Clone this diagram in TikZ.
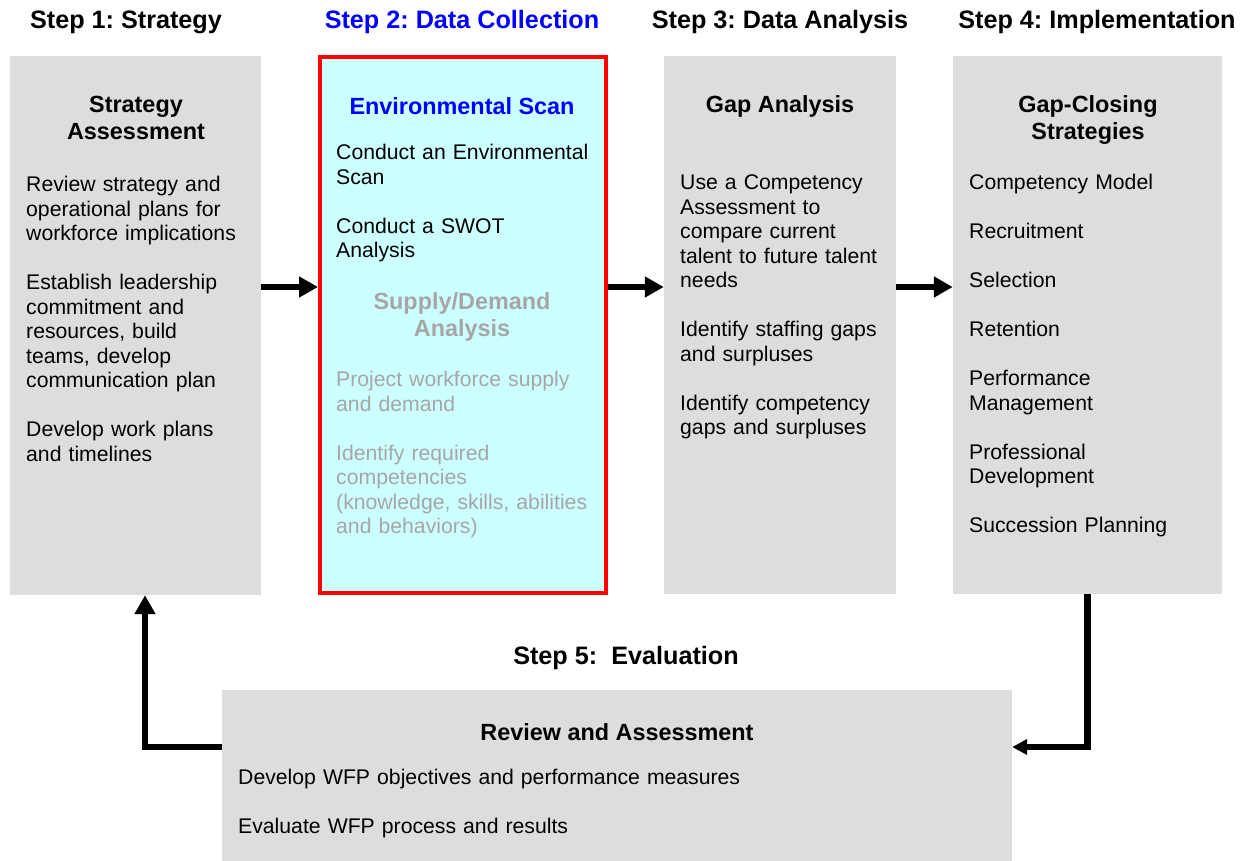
\documentclass[tikz,border=0pt]{standalone}
\usepackage{fontspec}
\setmainfont{Liberation Sans}
\usetikzlibrary{arrows.meta}
\frenchspacing
\definecolor{boxgray}{HTML}{DDDDDD}
\definecolor{scancyan}{HTML}{CCFFFF}
\definecolor{softgray}{HTML}{A6A6A6}
\definecolor{stepblue}{HTML}{0000FF}
\newcommand\bodyfont{\fontsize{21.2}{24.5}\selectfont}
\newcommand\headfont{\fontsize{23.4}{27}\selectfont\bfseries}
\newcommand\titlefont{\fontsize{25.2}{30}\selectfont\bfseries}
\newcommand\pgap{\\[24.5pt]}
\begin{document}
\begin{tikzpicture}[x=1pt,y=-1pt,
  panel/.style={draw=none, fill=boxgray, inner sep=0, rectangle},
  steptitle/.style={anchor=base, inner sep=0, font=\titlefont},
  heading/.style={anchor=north, inner sep=0, align=center, font=\headfont},
  body/.style={anchor=north west, inner sep=0, align=left, font=\bodyfont},
  flow/.style={line width=6.5pt, -{Triangle[length=19pt,width=20pt]}},
  smallflow/.style={line width=6.5pt, -{Triangle[length=15pt,width=15pt]}}]
\useasboundingbox (0,0) rectangle (1247,861);

% step titles
\node[steptitle] (t1) at (126,29) {Step 1: Strategy};
\node[steptitle, text=stepblue] (t2) at (462,29) {Step 2: Data Collection};
\node[steptitle] (t3) at (780,29) {Step 3: Data Analysis};
\node[steptitle] (t4) at (1097,29) {Step 4: Implementation};
\node[steptitle] (t5) at (626,664) {Step 5:\ \ Evaluation};

% panels
\node[panel, minimum width=251pt, minimum height=539pt] (b1) at (135.5,325.5) {};
\node[rectangle, draw=red, line width=4pt, fill=scancyan, inner sep=0,
      minimum width=286pt, minimum height=536pt] (b2) at (463,325) {};
\node[panel, minimum width=232pt, minimum height=538pt] (b3) at (780,325) {};
\node[panel, minimum width=269pt, minimum height=538pt] (b4) at (1087.5,325) {};
\node[panel, minimum width=790pt, minimum height=171pt] (b5) at (617,775.5) {};

% panel 1
\node[heading] (h1) at (136,93.6) {\strut Strategy\\Assessment};
\node[body, text width=230pt] (p1) at (26,174.3) {\strut Review strategy and\\operational plans for\\workforce implications\pgap
Establish leadership\\commitment and\\resources, build\\teams, develop\\communication plan\pgap
Develop work plans\\and timelines};

% panel 2
\node[heading, text=stepblue] (h2) at (462,95.6) {\strut Environmental Scan};
\node[body, text width=265pt] (p2) at (336,142.3) {\strut Conduct an Environmental\\Scan\pgap Conduct a SWOT\\Analysis};
\node[heading, text=softgray] (h2b) at (462,290.6) {\strut Supply/Demand\\Analysis};
\node[body, text width=265pt, text=softgray] (p2b) at (336,369.4) {\strut Project workforce supply\\and demand\pgap
Identify required\\competencies\\(knowledge, skills, abilities\\and behaviors)};

% panel 3
\node[heading] (h3) at (780,93.6) {\strut Gap Analysis};
\node[body, text width=212pt] (p3) at (680,172.3) {\strut Use a Competency\\Assessment to\\compare current\\talent to future talent\\needs\pgap
Identify staffing gaps\\and surpluses\pgap
Identify competency\\gaps and surpluses};

% panel 4
\node[heading] (h4) at (1088,93.6) {\strut Gap-Closing\\Strategies};
\node[body, text width=245pt] (p4) at (969,172.3) {\strut Competency Model\pgap Recruitment\pgap Selection\pgap Retention\pgap
Performance\\Management\pgap Professional\\Development\pgap Succession Planning};

% panel 5
\node[heading] (h5) at (617,721.1) {\strut Review and Assessment};
\node[body, text width=760pt] (p5) at (238,767.3) {\strut Develop WFP objectives and performance measures\pgap
Evaluate WFP process and results};

% connectors
\coordinate (row) at (0,287);
\coordinate (loop) at (145,747);
\draw[flow] (b1.east |- row) -- (b2.west |- row);
\draw[flow] (b2.east |- row) -- (b3.west |- row);
\draw[flow] (b3.east |- row) -- (b4.west |- row);
\draw[smallflow] (b4.south) -- (b4.south |- loop) -- (b5.east |- loop);
\draw[flow] (b5.west |- loop) -- (loop) -- (loop |- b1.south);
\end{tikzpicture}
\end{document}
